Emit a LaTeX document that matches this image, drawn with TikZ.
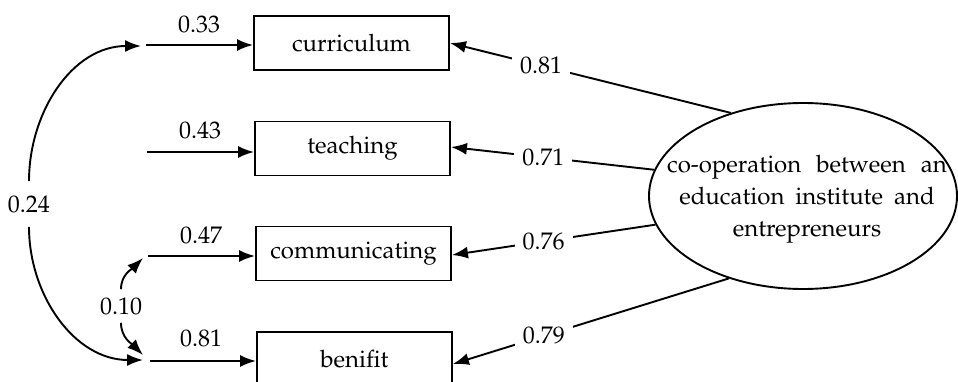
\documentclass[tikz,border=0pt]{standalone}
\usepackage[T1]{fontenc}
\usepackage{mathpazo}
\usetikzlibrary{arrows.meta,shapes.geometric}
\begin{document}
\begin{tikzpicture}[x=1pt,y=-1pt,
  every node/.style={font=\fontsize{24}{32}\selectfont},
  var/.style={draw,line width=1.9pt,minimum width=195pt,minimum height=54pt,inner sep=0pt},
  latent/.style={draw,ellipse,line width=1.9pt,minimum width=308pt,minimum height=186pt,inner sep=0pt},
  link/.style={line width=1.9pt,-{Latex[length=16pt,width=12pt]}},
  coef/.style={fill=white,inner xsep=8pt,inner ysep=2pt},
  errlab/.style={inner sep=1pt},
  corrlab/.style={inner xsep=1pt,inner ysep=14pt}]
\useasboundingbox (0,0) rectangle (958,382);

% observed variables
\node[var] (cur) at (351.5,43)  {curriculum};
\node[var] (tea) at (352.5,148.5) {teaching};
\node[var] (com) at (353.5,253.5) {communicating};
\node[var] (ben) at (354.5,359) {benifit};

% latent factor: fixed-size ellipse with its caption set inside
\node[latent] (lat) at (803,196) {};
\node[align=center] (latcap) at (807,199)
  {\spaceskip=15pt co-operation between an\\ \spaceskip=11pt education institute and\\ entrepreneurs};

% error terms
\coordinate (e1) at (146,45);
\coordinate (e2) at (147,152);
\coordinate (e3) at (148,256);
\coordinate (e4) at (150,361);
\draw[link] (e1) -- (e1 -| cur.west);
\draw[link] (e2) -- (e2 -| tea.west);
\draw[link] (e3) -- (e3 -| com.west);
\draw[link] (e4) -- (e4 -| ben.west);
\node[errlab] (v1) at (199,24)  {0.33};
\node[errlab] (v2) at (200,130) {0.43};
\node[errlab] (v3) at (201,235) {0.47};
\node[errlab] (v4) at (201,338) {0.81};

% correlated errors
\coordinate (t1) at (141,46);
\coordinate (t4) at (143,360);
\coordinate (t3) at (143,258);
\coordinate (t4b) at (143,355);
\node[corrlab] (r24) at (29,204) {0.24};
\draw[link] (r24.north) to[out=90,in=180] (t1);
\draw[link] (r24.south) to[out=-90,in=180] (t4);
\node[corrlab,inner ysep=8pt] (r10) at (121,306) {0.10};
\draw[link] (r10.north) to[out=90,in=225] (t3);
\draw[link] (r10.south) to[out=-90,in=135] (t4b);

% loadings
\draw[link] (lat.131.7) -- node[coef,pos=0.675] (l1) {0.81} (cur.east);
\draw[link] (lat.170.5) -- node[coef,pos=0.545] (l2) {0.71} ([yshift=1.5]tea.east);
\draw[link] (lat.191.5) -- node[coef,pos=0.55] (l3) {0.76} ([yshift=-1.5]com.east);
\draw[link] (lat.228.7) -- node[coef,pos=0.67] (l4) {0.79} ([yshift=-5]ben.east);
\end{tikzpicture}
\end{document}
